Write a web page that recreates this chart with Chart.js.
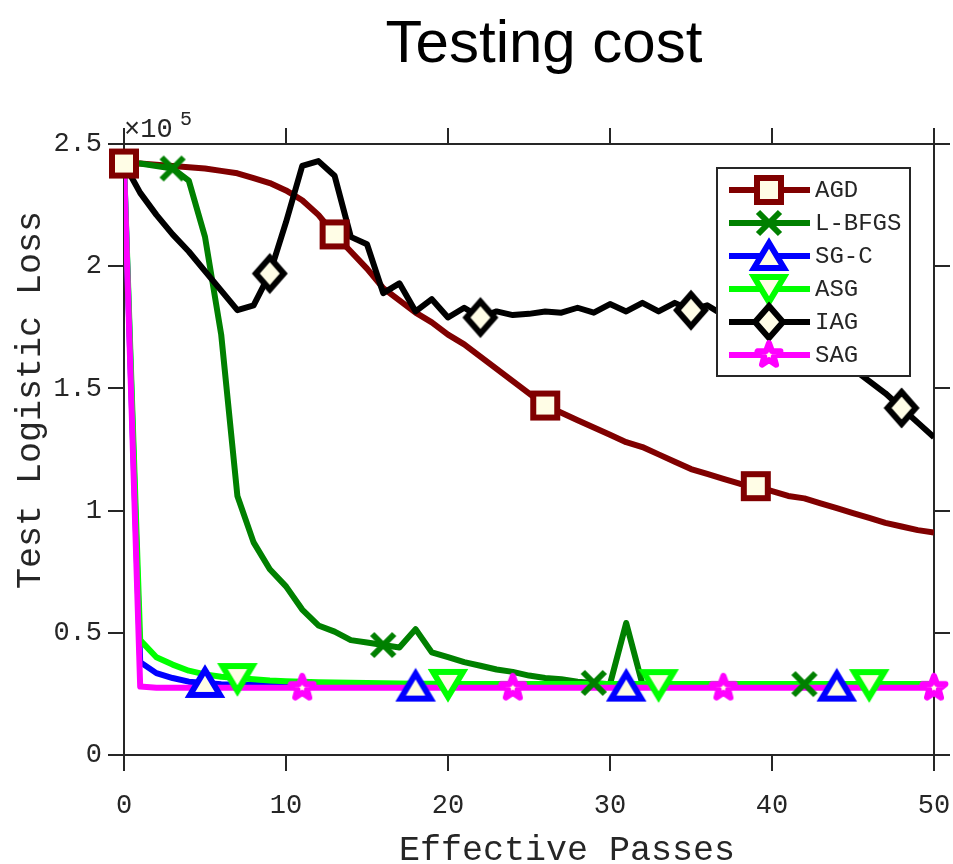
<!DOCTYPE html>
<html>
<head>
<meta charset="utf-8">
<script src="https://cdn.jsdelivr.net/npm/chart.js@4.4.1/dist/chart.umd.min.js"></script>
<style>
  body { margin: 0; background: #fff; }
  #wrap { width: 953px; height: 864px; }
</style>
</head>
<body>
<div id="wrap"><canvas id="chart" width="953" height="864"></canvas></div>
<script>
// effective passes on the x axis
const passes = [0, 1, 2, 3, 4, 5, 6, 7, 8, 9, 10, 11, 12, 13, 14, 15, 16, 17, 18, 19, 20,
  21, 22, 23, 24, 25, 26, 27, 28, 29, 30, 31, 32, 33, 34, 35, 36, 37, 38, 39, 40,
  41, 42, 43, 44, 45, 46, 47, 48, 49, 50];

// test logistic loss, in units of 1e5
const agd = [2.42, 2.42, 2.415, 2.41, 2.405, 2.40, 2.39, 2.38, 2.36, 2.34, 2.31,
  2.27, 2.21, 2.13, 2.06, 1.99, 1.91, 1.86, 1.81, 1.77, 1.72,
  1.68, 1.63, 1.58, 1.53, 1.48, 1.43, 1.40, 1.37, 1.34, 1.31,
  1.28, 1.26, 1.23, 1.20, 1.17, 1.15, 1.13, 1.11, 1.10, 1.08,
  1.06, 1.05, 1.03, 1.01, 0.99, 0.97, 0.95, 0.935, 0.92, 0.91];
const lbfgs = [2.42, 2.42, 2.41, 2.40, 2.35, 2.12, 1.72, 1.06, 0.87, 0.76, 0.69,
  0.595, 0.53, 0.505, 0.47, 0.46, 0.45, 0.44, 0.515, 0.42, 0.40,
  0.38, 0.365, 0.35, 0.34, 0.325, 0.315, 0.31, 0.30, 0.295, 0.29,
  0.54, 0.29, 0.29, 0.29, 0.29, 0.29, 0.29, 0.29, 0.29, 0.29,
  0.29, 0.29, 0.29, 0.29, 0.29, 0.29, 0.29, 0.29, 0.29, 0.29];
const sgc = [2.42, 0.38, 0.335, 0.315, 0.30, 0.295, 0.29, 0.288, 0.286, 0.285, 0.284,
  0.283, 0.282, 0.282, 0.281, 0.281, 0.28, 0.28, 0.28, 0.28, 0.28,
  0.28, 0.28, 0.28, 0.28, 0.28, 0.28, 0.28, 0.28, 0.28, 0.28,
  0.28, 0.28, 0.28, 0.28, 0.28, 0.28, 0.28, 0.28, 0.28, 0.28,
  0.28, 0.28, 0.28, 0.28, 0.28, 0.28, 0.28, 0.28, 0.28, 0.28];
const asg = [2.42, 0.47, 0.40, 0.37, 0.345, 0.33, 0.32, 0.315, 0.31, 0.305, 0.302,
  0.30, 0.298, 0.297, 0.296, 0.295, 0.294, 0.293, 0.292, 0.292, 0.291,
  0.291, 0.29, 0.29, 0.29, 0.29, 0.29, 0.29, 0.29, 0.29, 0.29,
  0.29, 0.29, 0.29, 0.29, 0.29, 0.29, 0.29, 0.29, 0.29, 0.29,
  0.29, 0.29, 0.29, 0.29, 0.29, 0.29, 0.29, 0.29, 0.29, 0.29];
const iag = [2.42, 2.30, 2.21, 2.13, 2.06, 1.98, 1.90, 1.82, 1.84, 1.97, 2.18,
  2.41, 2.43, 2.37, 2.12, 2.09, 1.89, 1.93, 1.815, 1.865, 1.79,
  1.83, 1.79, 1.815, 1.80, 1.805, 1.815, 1.81, 1.83, 1.81, 1.845,
  1.815, 1.85, 1.815, 1.85, 1.82, 1.84, 1.80, 1.79, 1.78, 1.76,
  1.74, 1.71, 1.67, 1.63, 1.58, 1.53, 1.48, 1.42, 1.36, 1.30];
const sag = [2.42, 0.28, 0.275, 0.275, 0.275, 0.275, 0.275, 0.275, 0.275, 0.275, 0.275,
  0.275, 0.275, 0.275, 0.275, 0.275, 0.275, 0.275, 0.275, 0.275, 0.275,
  0.275, 0.275, 0.275, 0.275, 0.275, 0.275, 0.275, 0.275, 0.275, 0.275,
  0.275, 0.275, 0.275, 0.275, 0.275, 0.275, 0.275, 0.275, 0.275, 0.275,
  0.275, 0.275, 0.275, 0.275, 0.275, 0.275, 0.275, 0.275, 0.275, 0.275];

// which passes carry a marker
const agdMarks = [0, 13, 26, 39];
const lbfgsMarks = [3, 16, 29, 42];
const sgcMarks = [5, 18, 31, 44];
const asgMarks = [7, 20, 33, 46];
const iagMarks = [9, 22, 35, 48];
const sagMarks = [11, 24, 37, 50];

const xTicks = [0, 10, 20, 30, 40, 50];
const yTicks = [0, 0.5, 1, 1.5, 2, 2.5];

const AXIS = '#262626';
const IVORY = '#fffde6';

function makeMarker(kind, stroke) {
  const c = document.createElement('canvas');
  c.width = 44; c.height = 44;
  const g = c.getContext('2d');
  g.translate(22, 22);
  g.lineWidth = 6;
  g.strokeStyle = stroke;
  g.fillStyle = IVORY;
  g.lineJoin = 'miter';
  g.beginPath();
  if (kind === 'square') {
    g.rect(-12, -12, 24, 24);
  } else if (kind === 'x') {
    g.moveTo(-11, -11); g.lineTo(11, 11);
    g.moveTo(11, -11); g.lineTo(-11, 11);
    g.stroke();
    return c;
  } else if (kind === 'up') {
    g.moveTo(0, -13); g.lineTo(15, 12); g.lineTo(-15, 12); g.closePath();
  } else if (kind === 'down') {
    g.moveTo(0, 13); g.lineTo(15, -12); g.lineTo(-15, -12); g.closePath();
  } else if (kind === 'diamond') {
    g.moveTo(0, -16); g.lineTo(14, 0); g.lineTo(0, 16); g.lineTo(-14, 0); g.closePath();
  } else if (kind === 'star') {
    g.lineJoin = 'round';
    for (let i = 0; i < 10; i++) {
      const r = i % 2 === 0 ? 12 : 5;
      const a = -Math.PI / 2 + i * Math.PI / 5;
      if (i === 0) g.moveTo(r * Math.cos(a), r * Math.sin(a));
      else g.lineTo(r * Math.cos(a), r * Math.sin(a));
    }
    g.closePath();
  }
  g.fill();
  g.stroke();
  return c;
}

const series = [
  { name: 'AGD', data: agd, marks: agdMarks, color: '#800000', marker: makeMarker('square', '#800000') },
  { name: 'L-BFGS', data: lbfgs, marks: lbfgsMarks, color: '#008000', marker: makeMarker('x', '#008000') },
  { name: 'SG-C', data: sgc, marks: sgcMarks, color: '#0000ff', marker: makeMarker('up', '#0000ff') },
  { name: 'ASG', data: asg, marks: asgMarks, color: '#00ff00', marker: makeMarker('down', '#00ff00') },
  { name: 'IAG', data: iag, marks: iagMarks, color: '#000000', marker: makeMarker('diamond', '#000000') },
  { name: 'SAG', data: sag, marks: sagMarks, color: '#ff00ff', marker: makeMarker('star', '#ff00ff') },
];

const lineSets = series.map((s, i) => ({
  label: s.name,
  data: s.data.map((v, k) => ({ x: passes[k], y: v })),
  borderColor: s.color,
  borderWidth: 6,
  borderJoinStyle: 'round',
  pointRadius: 0,
  tension: 0,
  fill: false,
  order: 12 - i,
}));

const markerSets = series.map((s, i) => ({
  label: s.name + ' markers',
  data: s.marks.map((k) => ({ x: passes[k], y: s.data[k] })),
  showLine: false,
  pointStyle: s.marker,
  pointRadius: 10,
  clip: false,
  order: 6 - i,
}));

const decorations = {
  id: 'decorations',
  afterDraw(chart) {
    const ctx = chart.ctx;
    ctx.save();
    ctx.fillStyle = '#000';
    ctx.font = '60px "Liberation Sans", Arial, sans-serif';
    ctx.textAlign = 'center';
    ctx.textBaseline = 'alphabetic';
    ctx.fillText('Testing cost', 544, 62);

    ctx.fillStyle = AXIS;
    ctx.font = '35px "Liberation Mono", "Courier New", monospace';
    ctx.fillText('Effective Passes', 567, 860);
    ctx.save();
    ctx.translate(40, 400);
    ctx.rotate(-Math.PI / 2);
    ctx.fillText('Test Logistic Loss', 0, 0);
    ctx.restore();

    ctx.textAlign = 'left';
    ctx.font = '27px "Liberation Mono", "Courier New", monospace';
    ctx.fillText('\u00d710', 124, 137);
    ctx.font = '20px "Liberation Mono", "Courier New", monospace';
    ctx.fillText('5', 180, 125);

    // legend
    const bx = 717, by = 168, bw = 193, bh = 208;
    ctx.fillStyle = '#fff';
    ctx.fillRect(bx, by, bw, bh);
    ctx.strokeStyle = AXIS;
    ctx.lineWidth = 2;
    ctx.strokeRect(bx, by, bw, bh);
    ctx.font = '24px "Liberation Mono", "Courier New", monospace';
    ctx.textBaseline = 'middle';
    series.forEach((s, i) => {
      const y = 190 + i * 33;
      ctx.strokeStyle = s.color;
      ctx.lineWidth = 6;
      ctx.beginPath();
      ctx.moveTo(729, y);
      ctx.lineTo(810, y);
      ctx.stroke();
      ctx.drawImage(s.marker, 769 - 22, y - 22);
      ctx.fillStyle = AXIS;
      ctx.fillText(s.name, 815, y + 1);
    });
    ctx.restore();
  },
};

const tickFont = { family: '"Liberation Mono", "Courier New", monospace', size: 27 };
const gridOpts = { drawOnChartArea: false, drawTicks: true, tickLength: 16, color: AXIS, lineWidth: 2 };
const borderOpts = { display: true, color: AXIS, width: 2 };
const noPad = (s) => { s.paddingLeft = 0; s.paddingRight = 0; s.paddingTop = 0; s.paddingBottom = 0; };

new Chart(document.getElementById('chart'), {
  type: 'line',
  data: { datasets: [...lineSets, ...markerSets] },
  options: {
    responsive: false,
    animation: false,
    layout: { padding: 0 },
    plugins: { legend: { display: false }, tooltip: { enabled: false }, title: { display: false } },
    scales: {
      x: {
        type: 'linear', position: 'bottom', min: 0, max: 50,
        afterBuildTicks: (s) => { s.ticks = xTicks.map((v) => ({ value: v })); },
        afterFit: (s) => { s.height = 109; noPad(s); },
        ticks: { font: tickFont, color: AXIS, padding: 19, maxRotation: 0 },
        grid: gridOpts, border: borderOpts,
      },
      x2: {
        type: 'linear', position: 'top', min: 0, max: 50,
        afterBuildTicks: (s) => { s.ticks = xTicks.map((v) => ({ value: v })); },
        afterFit: (s) => { s.height = 144; noPad(s); },
        ticks: { display: false },
        grid: gridOpts, border: borderOpts,
      },
      y: {
        type: 'linear', position: 'left', min: 0, max: 2.5,
        afterBuildTicks: (s) => { s.ticks = yTicks.map((v) => ({ value: v })); },
        afterFit: (s) => { s.width = 124; noPad(s); },
        ticks: { font: tickFont, color: AXIS, padding: 6, callback: (v) => String(v) },
        grid: gridOpts, border: borderOpts,
      },
      y2: {
        type: 'linear', position: 'right', min: 0, max: 2.5,
        afterBuildTicks: (s) => { s.ticks = yTicks.map((v) => ({ value: v })); },
        afterFit: (s) => { s.width = 19; noPad(s); },
        ticks: { display: false },
        grid: gridOpts, border: borderOpts,
      },
    },
  },
  plugins: [decorations],
});
</script>
</body>
</html>
